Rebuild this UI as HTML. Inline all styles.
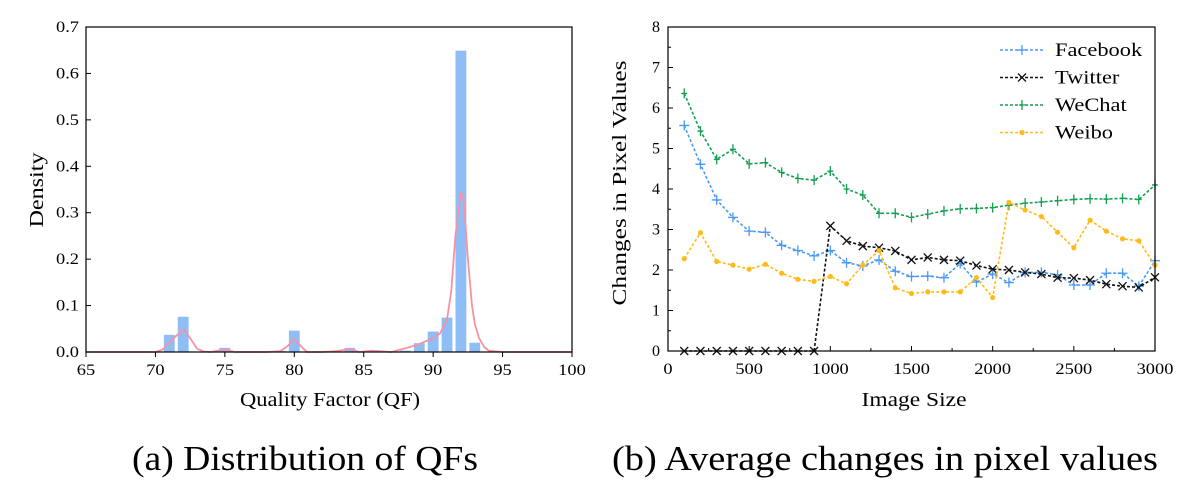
<!DOCTYPE html>
<html><head><meta charset="utf-8">
<style>
html,body{margin:0;padding:0;background:#fff;}
svg{display:block;font-family:"Liberation Serif",serif;}
</style></head>
<body>
<svg id="svg" width="1183" height="484" viewBox="0 0 1183 484">
<g id="left"></g>
<g id="right"></g>
<text x="305" y="470" font-size="35" text-anchor="middle" textLength="346" lengthAdjust="spacingAndGlyphs">(a) Distribution of QFs</text>
<text x="885" y="470" font-size="35" text-anchor="middle" textLength="546" lengthAdjust="spacingAndGlyphs">(b) Average changes in pixel values</text>
</svg>
<script>
// ---- Left chart data ----
const qfBins = [71,72,75,79,80,84,88,89,90,91,92,93];
const qfDensity = [0.037,0.076,0.009,0.002,0.046,0.009,0.003,0.019,0.044,0.074,0.649,0.02];
const kdeX = [65,70,70.5,71,71.5,72,72.5,73,73.5,74,74.5,75,75.7,78,79,79.5,80,80.5,80.9,82,83,84,84.7,85.5,86.5,87,88,89,90,90.5,91,91.3,91.6,92,92.2,92.5,92.8,93,93.3,93.7,94,95,100];
const kdeY = [0,0,0.005,0.02,0.035,0.049,0.03,0.007,0.001,0,0.003,0.006,0,0,0.002,0.012,0.028,0.012,0,0,0.002,0.006,0,0.003,0.001,0,0.008,0.017,0.03,0.04,0.07,0.13,0.25,0.343,0.33,0.2,0.1,0.061,0.03,0.01,0.003,0,0];
const qfXTicks = [65,70,75,80,85,90,95,100];
const qfYTicks = [0,0.1,0.2,0.3,0.4,0.5,0.6,0.7];
const qfYLabels = ["0.0","0.1","0.2","0.3","0.4","0.5","0.6","0.7"];

// ---- Right chart data ----
const sizes = [100,200,300,400,500,600,700,800,900,1000,1100,1200,1300,1400,1500,1600,1700,1800,1900,2000,2100,2200,2300,2400,2500,2600,2700,2800,2900,3000];
const facebook = [5.57,4.61,3.73,3.30,2.96,2.93,2.61,2.48,2.35,2.48,2.18,2.10,2.25,1.97,1.84,1.85,1.81,2.16,1.70,1.90,1.69,1.94,1.94,1.88,1.63,1.63,1.92,1.92,1.60,2.23];
const twitter = [0,0,0,0,0,0,0,0,0,3.09,2.72,2.59,2.55,2.47,2.25,2.31,2.25,2.23,2.11,2.02,2.00,1.94,1.90,1.81,1.80,1.75,1.65,1.60,1.57,1.82];
const wechat = [6.36,5.43,4.73,4.98,4.62,4.65,4.41,4.26,4.22,4.44,4.00,3.85,3.40,3.40,3.30,3.38,3.46,3.51,3.52,3.54,3.60,3.65,3.68,3.71,3.74,3.76,3.75,3.77,3.74,4.10];
const weibo = [2.28,2.92,2.21,2.12,2.02,2.14,1.92,1.77,1.72,1.84,1.66,2.12,2.48,1.56,1.42,1.46,1.46,1.46,1.81,1.32,3.67,3.48,3.32,2.93,2.55,3.23,2.96,2.77,2.72,2.12];
const sizeTicks = [0,500,1000,1500,2000,2500,3000];
const valTicks = [0,1,2,3,4,5,6,7,8];
const seriesNames = ["Facebook","Twitter","WeChat","Weibo"];

const NS="http://www.w3.org/2000/svg";
function mk(parent,tag,attrs){const e=document.createElementNS(NS,tag);for(const k in attrs)e.setAttribute(k,attrs[k]);parent.appendChild(e);return e;}
function stretch(el,f){const w=el.getComputedTextLength();el.setAttribute('textLength',(w*f).toFixed(1));el.setAttribute('lengthAdjust','spacingAndGlyphs');}

// ---- Left chart ----
(function(){
const g=document.getElementById('left');
const X0=86,X1=572,Y0=352,Y1=27;
const sx=v=>X0+(v-65)/(100-65)*(X1-X0);
const sy=v=>Y0-(v/0.7)*(Y0-Y1);
const bw=(sx(1)-sx(0))*0.78;
qfBins.forEach((q,i)=>{
  const r=mk(g,'rect',{x:sx(q)-bw/2,y:sy(qfDensity[i]),width:bw,height:Y0-sy(qfDensity[i]),fill:'#8fbdf6'});
  
  
});
const d=kdeX.map((x,i)=>(i?'L':'M')+sx(x).toFixed(1)+','+sy(kdeY[i]).toFixed(1)).join(' ');
const p=mk(g,'path',{d:d,fill:'none',stroke:'#f792a4','stroke-width':1.8,'stroke-linejoin':'round'});


const fr=mk(g,'rect',{x:X0,y:Y1,width:X1-X0,height:Y0-Y1,fill:'none',stroke:'#000','stroke-width':1.2});


qfXTicks.forEach(t=>{
  mk(g,'line',{x1:sx(t),x2:sx(t),y1:Y0,y2:Y0+5,stroke:'#000'});
  const tx=mk(g,'text',{x:sx(t),y:Y0+23,'font-size':16,'text-anchor':'middle'});tx.textContent=t;
  
  
  stretch(tx,1.15);
});
qfYTicks.forEach((t,i)=>{
  mk(g,'line',{x1:X0,x2:X0+5,y1:sy(t),y2:sy(t),stroke:'#000'});
  const tx=mk(g,'text',{x:X0-7,y:sy(t)+5,'font-size':16,'text-anchor':'end'});tx.textContent=qfYLabels[i];
  
  
  stretch(tx,1.15);
});
const xt=mk(g,'text',{x:330,y:406,'font-size':20,'text-anchor':'middle',textLength:180,lengthAdjust:'spacingAndGlyphs'});xt.textContent='Quality Factor (QF)';


const yt=mk(g,'text',{x:0,y:0,'font-size':20,'text-anchor':'middle',textLength:75,lengthAdjust:'spacingAndGlyphs',transform:'translate(43,190) rotate(-90)'});yt.textContent='Density';


})();

// ---- Right chart ----
(function(){
const g=document.getElementById('right');
const X0=668,X1=1155,Y0=351,Y1=27;
const sx=v=>X0+v/3000*(X1-X0);
const sy=v=>Y0-v/8*(Y0-Y1);
const colors=['#4a9af5','#111','#14a050','#ffbb1c'];
const data=[facebook,twitter,wechat,weibo];
function marker(gg,type,x,y,c){
  if(type===0){mk(gg,'path',{d:`M${x-5},${y}h10M${x},${y-5}v10`,stroke:c,'stroke-width':1.3});}
  else if(type===1){mk(gg,'path',{d:`M${x-4},${y-4}l8,8M${x-4},${y+4}l8,-8`,stroke:c,'stroke-width':1.3});}
  else if(type===2){mk(gg,'path',{d:`M${x-3},${y}h6M${x},${y-5}v10`,stroke:c,'stroke-width':1.3});}
  else {mk(gg,'circle',{cx:x,cy:y,r:2.6,fill:c});}
}
data.forEach((arr,si)=>{
  const sg=mk(g,'g',{});
  
  
  const d=arr.map((v,i)=>(i?'L':'M')+sx(sizes[i]).toFixed(1)+','+sy(v).toFixed(1)).join(' ');
  mk(sg,'path',{d:d,fill:'none',stroke:colors[si],'stroke-width':1.6,'stroke-dasharray':'3,2'});
  arr.forEach((v,i)=>marker(sg,si,sx(sizes[i]),sy(v),colors[si]));
});
const fr=mk(g,'rect',{x:X0,y:Y1,width:X1-X0,height:Y0-Y1,fill:'none',stroke:'#000','stroke-width':1.2});


sizeTicks.forEach(t=>{
  mk(g,'line',{x1:sx(t),x2:sx(t),y1:Y0,y2:Y0-5,stroke:'#000'});
  const tx=mk(g,'text',{x:sx(t),y:Y0+23,'font-size':16,'text-anchor':'middle'});tx.textContent=t;
  
  
  stretch(tx,1.15);
});
for(let t=250;t<3000;t+=500){mk(g,'line',{x1:sx(t),x2:sx(t),y1:Y0,y2:Y0-3,stroke:'#000'});}
valTicks.forEach(t=>{
  mk(g,'line',{x1:X0,x2:X0+5,y1:sy(t),y2:sy(t),stroke:'#000'});
  if(t<8)mk(g,'line',{x1:X0,x2:X0+3,y1:sy(t+0.5),y2:sy(t+0.5),stroke:'#000'});
  const tx=mk(g,'text',{x:X0-8,y:sy(t)+5,'font-size':16,'text-anchor':'end'});tx.textContent=t;
  
  
});
const xt=mk(g,'text',{x:914,y:406,'font-size':20,'text-anchor':'middle',textLength:105,lengthAdjust:'spacingAndGlyphs'});xt.textContent='Image Size';


const yt=mk(g,'text',{x:0,y:0,'font-size':20,'text-anchor':'middle',textLength:245,lengthAdjust:'spacingAndGlyphs',transform:'translate(626,183) rotate(-90)'});yt.textContent='Changes in Pixel Values';


// legend
const lg=mk(g,'g',{});


seriesNames.forEach((n,i)=>{
  const y=50+i*27.5;
  const eg=mk(lg,'g',{});
  
  
  mk(eg,'line',{x1:1000,x2:1045,y1:y,y2:y,stroke:colors[i],'stroke-width':1.6,'stroke-dasharray':'3,2'});
  marker(eg,i,1022,y,colors[i]);
  const tx=mk(eg,'text',{x:1055,y:y+6,'font-size':19});tx.textContent=n;
  stretch(tx,1.18);
});
})();
</script>
</body></html>
